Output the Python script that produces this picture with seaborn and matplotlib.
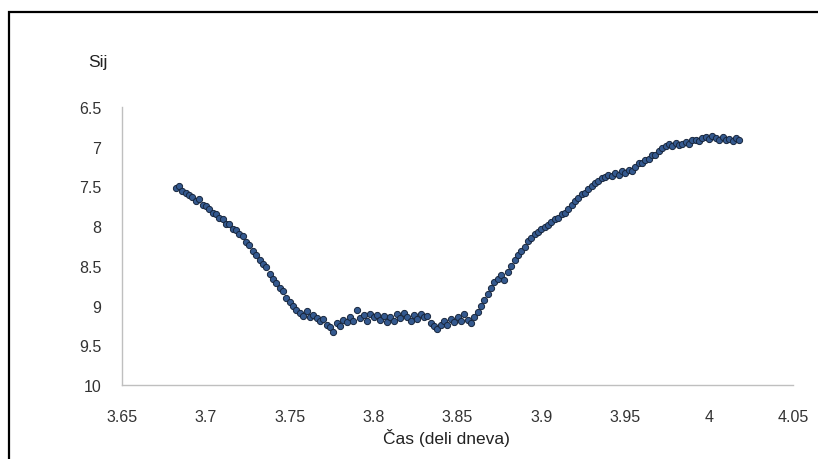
import numpy as np
import pandas as pd
import matplotlib
matplotlib.use("Agg")
import matplotlib.pyplot as plt
from matplotlib.patches import Rectangle
import seaborn as sns

# ---- data ----
cas = [
    3.682, 3.684, 3.686, 3.688, 3.690, 3.692, 3.694, 3.696, 3.698, 3.700,
    3.702, 3.704, 3.706, 3.708, 3.710, 3.712, 3.714, 3.716, 3.718, 3.720,
    3.722, 3.724, 3.726, 3.728, 3.730, 3.732, 3.734, 3.736, 3.738, 3.740,
    3.742, 3.744, 3.746, 3.748, 3.750, 3.752, 3.754, 3.756, 3.758, 3.760,
    3.762, 3.764, 3.766, 3.768, 3.770, 3.772, 3.774, 3.776, 3.778, 3.780,
    3.782, 3.784, 3.786, 3.788, 3.790, 3.792, 3.794, 3.796, 3.798, 3.800,
    3.802, 3.804, 3.806, 3.808, 3.810, 3.812, 3.814, 3.816, 3.818, 3.820,
    3.822, 3.824, 3.826, 3.828, 3.830, 3.832, 3.834, 3.836, 3.838, 3.840,
    3.842, 3.844, 3.846, 3.848, 3.850, 3.852, 3.854, 3.856, 3.858, 3.860,
    3.862, 3.864, 3.866, 3.868, 3.870, 3.872, 3.874, 3.876, 3.878, 3.880,
    3.882, 3.884, 3.886, 3.888, 3.890, 3.892, 3.894, 3.896, 3.898, 3.900,
    3.902, 3.904, 3.906, 3.908, 3.910, 3.912, 3.914, 3.916, 3.918, 3.920,
    3.922, 3.924, 3.926, 3.928, 3.930, 3.932, 3.934, 3.936, 3.938, 3.940,
    3.942, 3.944, 3.946, 3.948, 3.950, 3.952, 3.954, 3.956, 3.958, 3.960,
    3.962, 3.964, 3.966, 3.968, 3.970, 3.972, 3.974, 3.976, 3.978, 3.980,
    3.982, 3.984, 3.986, 3.988, 3.990, 3.992, 3.994, 3.996, 3.998, 4.000,
    4.002, 4.004, 4.006, 4.008, 4.010, 4.012, 4.014, 4.016, 4.018,
]
sij = [
    7.52, 7.50, 7.56, 7.58, 7.61, 7.63, 7.68, 7.66, 7.73, 7.75,
    7.79, 7.84, 7.85, 7.90, 7.91, 7.97, 7.97, 8.03, 8.05, 8.10,
    8.12, 8.20, 8.24, 8.31, 8.36, 8.42, 8.48, 8.52, 8.60, 8.66,
    8.72, 8.78, 8.82, 8.90, 8.96, 9.00, 9.06, 9.09, 9.13, 9.07,
    9.15, 9.12, 9.16, 9.20, 9.17, 9.24, 9.27, 9.33, 9.22, 9.26,
    9.18, 9.21, 9.14, 9.19, 9.05, 9.16, 9.12, 9.20, 9.10, 9.15,
    9.12, 9.18, 9.13, 9.21, 9.15, 9.20, 9.11, 9.16, 9.09, 9.14,
    9.19, 9.12, 9.17, 9.10, 9.15, 9.13, 9.22, 9.26, 9.30, 9.24,
    9.20, 9.25, 9.17, 9.21, 9.14, 9.19, 9.10, 9.18, 9.22, 9.14,
    9.08, 9.00, 8.93, 8.86, 8.78, 8.70, 8.66, 8.62, 8.68, 8.58,
    8.50, 8.42, 8.36, 8.31, 8.26, 8.19, 8.15, 8.10, 8.08, 8.04,
    8.01, 7.98, 7.95, 7.91, 7.90, 7.85, 7.83, 7.78, 7.74, 7.68,
    7.64, 7.60, 7.58, 7.53, 7.50, 7.46, 7.43, 7.40, 7.38, 7.36,
    7.37, 7.33, 7.35, 7.31, 7.33, 7.29, 7.30, 7.26, 7.21, 7.20,
    7.17, 7.15, 7.11, 7.10, 7.06, 7.02, 6.99, 6.97, 6.99, 6.95,
    6.98, 6.96, 6.94, 6.96, 6.92, 6.91, 6.93, 6.89, 6.88, 6.90,
    6.87, 6.89, 6.91, 6.88, 6.92, 6.90, 6.93, 6.89, 6.92,
]
x_ticks = [3.65, 3.7, 3.75, 3.8, 3.85, 3.9, 3.95, 4.0, 4.05]
x_tick_labels = ["3.65", "3.7", "3.75", "3.8", "3.85", "3.9", "3.95", "4", "4.05"]
y_ticks = [6.5, 7, 7.5, 8, 8.5, 9, 9.5, 10]
y_tick_labels = ["6.5", "7", "7.5", "8", "8.5", "9", "9.5", "10"]

df = pd.DataFrame({"cas": cas, "sij": sij})

sns.set_theme(style="white")
plt.rcParams["font.family"] = ["Liberation Sans", "DejaVu Sans"]

W, H = 818, 460
fig = plt.figure(figsize=(W / 100, H / 100), dpi=100)
ax = fig.add_axes([122 / W, 1 - 386 / H, (793 - 122) / W, (386 - 108) / H])

sns.scatterplot(data=df, x="cas", y="sij", ax=ax, s=20, color="#34598F",
                edgecolor="#17263D", linewidth=0.7, legend=False, zorder=3)

ax.set_xlim(3.65, 4.05)
ax.set_ylim(10, 6.5)
ax.set_xticks(x_ticks)
ax.set_xticklabels(x_tick_labels)
ax.set_yticks(y_ticks)
ax.set_yticklabels(y_tick_labels)
ax.tick_params(axis="both", length=0, labelsize=11.5, colors="#333333")
ax.tick_params(axis="x", pad=17)
ax.tick_params(axis="y", pad=15)
for side in ["top", "right"]:
    ax.spines[side].set_visible(False)
for side in ["left", "bottom"]:
    ax.spines[side].set_color("#BFBFBF")
    ax.spines[side].set_linewidth(1.0)
ax.set_xlabel("")
ax.set_ylabel("")

fig.text(98 / W, 1 - 62 / H, "Sij", ha="center", va="center", fontsize=12.5, color="#222222")
fig.text(446 / W, 1 - 438 / H, "Čas (deli dneva)", ha="center", va="center",
         fontsize=12.5, color="#222222")

# outer frame
fig.patches.append(Rectangle((9 / W, -0.05), 1.2, 1 - 13 / H + 0.05, transform=fig.transFigure,
                             fill=False, edgecolor="black", linewidth=1.6))

fig.savefig("out.png", dpi=100)
